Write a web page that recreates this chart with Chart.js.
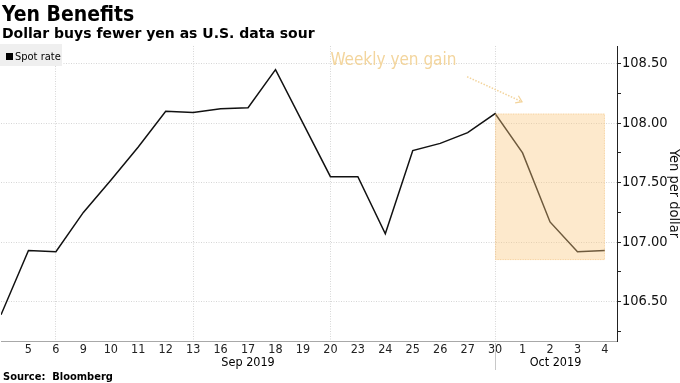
<!DOCTYPE html>
<html><head><meta charset="utf-8">
<script src="https://cdn.jsdelivr.net/npm/chart.js@4.4.1/dist/chart.umd.min.js"></script>
<style>html,body{margin:0;padding:0;background:#fff;overflow:hidden}#wrap{width:680px;height:383px;position:relative}</style>
</head><body><div id="wrap"><canvas id="c" width="680" height="383"></canvas></div>
<script>
// ---- data ----
const dayLabels = ['4','5','6','9','10','11','12','13','16','17','18','19','20','23','24','25','26','27','30','1','2','3','4'];
const spotRate = [106.39,106.93,106.92,107.25,107.52,107.80,108.10,108.09,108.12,108.13,108.45,108.00,107.55,107.55,107.07,107.77,107.83,107.92,108.08,107.75,107.17,106.92,106.93];
const seriesName = 'Spot rate';
const weekGridIdx = [2, 7, 12, 18];
const monthLabels = ['Sep 2019', 'Oct 2019'];
const monthCenters = [9, 20.2];
const monthBreakIdx = 18;
const gainBox = [18, 22, 108.08, 106.85];        // x from, x to, y top, y bottom (data units)
const gainArrow = [16.98, 108.39, 18.98, 108.18]; // x1, y1, x2, y2 (data units)
const gainLabel = 'Weekly yen gain';
const gainLabelAt = [12, 108.485];
const titleText = 'Yen Benefits';
const subtitleText = 'Dollar buys fewer yen as U.S. data sour';
const sourceText = 'Source:  Bloomberg';
const yAxisTitle = 'Yen per dollar';

const COND = '"DejaVu Sans Condensed", "DejaVu Sans", sans-serif';
const ORANGE_TXT = '#f3d59d';

const deco = {
  id: 'deco',
  afterDatasetsDraw(chart) {
    const ctx = chart.ctx, xs = chart.scales.x, ys = chart.scales.y;
    // shaded box
    const x1 = xs.getPixelForValue(gainBox[0]), x2 = xs.getPixelForValue(gainBox[1]);
    const y1 = ys.getPixelForValue(gainBox[2]), y2 = ys.getPixelForValue(gainBox[3]);
    ctx.save();
    ctx.fillStyle = 'rgba(249,200,128,0.40)';
    ctx.fillRect(x1, y1, x2 - x1, y2 - y1);
    ctx.strokeStyle = 'rgba(240,190,120,0.55)';
    ctx.setLineDash([1, 1.5]);
    ctx.lineWidth = 1;
    ctx.strokeRect(x1 + 0.5, y1 + 0.5, x2 - x1 - 1, y2 - y1 - 1);
    // arrow
    const ax1 = xs.getPixelForValue(gainArrow[0]), ay1 = ys.getPixelForValue(gainArrow[1]);
    const ax2 = xs.getPixelForValue(gainArrow[2]), ay2 = ys.getPixelForValue(gainArrow[3]);
    ctx.strokeStyle = '#f3d49c';
    ctx.lineWidth = 1.5;
    ctx.setLineDash([1.5, 1.5]);
    ctx.beginPath(); ctx.moveTo(ax1, ay1); ctx.lineTo(ax2, ay2); ctx.stroke();
    const ang = Math.atan2(ay2 - ay1, ax2 - ax1);
    ctx.setLineDash([]);
    ctx.lineWidth = 1.2;
    ctx.beginPath();
    ctx.moveTo(ax2 - 7 * Math.cos(ang - 0.6), ay2 - 7 * Math.sin(ang - 0.6));
    ctx.lineTo(ax2, ay2);
    ctx.lineTo(ax2 - 7 * Math.cos(ang + 0.6), ay2 - 7 * Math.sin(ang + 0.6));
    ctx.stroke();
    // label
    ctx.fillStyle = ORANGE_TXT;
    ctx.font = '17px ' + COND;
    ctx.textBaseline = 'alphabetic';
    ctx.textAlign = 'left';
    ctx.fillText(gainLabel, xs.getPixelForValue(gainLabelAt[0]), ys.getPixelForValue(gainLabelAt[1]));
    ctx.restore();
  },
  afterDraw(chart) {
    const ctx = chart.ctx, xs = chart.scales.x, ca = chart.chartArea;
    ctx.save();
    ctx.fillStyle = '#000';
    ctx.textAlign = 'left';
    ctx.textBaseline = 'alphabetic';
    ctx.font = 'bold 21px ' + COND;
    ctx.fillText(titleText, 2, 21);
    ctx.font = 'bold 14px "DejaVu Sans", sans-serif';
    ctx.fillText(subtitleText, 2, 37.5);
    ctx.font = 'bold 11px ' + COND;
    ctx.fillText(sourceText, 3, 380);
    // legend
    ctx.fillStyle = '#efefef';
    ctx.fillRect(0, 44, 62, 22);
    ctx.fillStyle = '#000';
    ctx.fillRect(6, 53, 7, 7);
    ctx.font = '11px ' + COND;
    ctx.textBaseline = 'middle';
    ctx.fillText(seriesName, 15, 57);
    // month labels
    ctx.font = '12.5px ' + COND;
    ctx.textAlign = 'center';
    monthLabels.forEach((m, i) => ctx.fillText(m, xs.getPixelForValue(monthCenters[i]), 363));
    // month separator
    const sx = Math.round(xs.getPixelForValue(monthBreakIdx)) + 0.5;
    ctx.strokeStyle = '#c8c8c8';
    ctx.lineWidth = 1;
    ctx.beginPath(); ctx.moveTo(sx, ca.bottom + 2); ctx.lineTo(sx, 370); ctx.stroke();
    ctx.restore();
  }
};

new Chart(document.getElementById('c'), {
  type: 'line',
  data: {
    datasets: [{
      label: seriesName,
      data: spotRate.map((v, i) => ({x: i, y: v})),
      borderColor: '#111',
      borderWidth: 1.5,
      pointRadius: 0,
      tension: 0,
      fill: false
    }]
  },
  options: {
    responsive: false,
    animation: false,
    devicePixelRatio: 1,
    layout: {padding: {top: 46, left: 0, right: 0, bottom: 0}},
    plugins: {legend: {display: false}, tooltip: {enabled: false}, title: {display: false}},
    scales: {
      x: {
        type: 'linear',
        min: 0,
        max: 22.44,
        afterBuildTicks: s => { s.ticks = dayLabels.map((_, i) => ({value: i})); },
        afterFit: s => { s.height = 42; },
        ticks: {
          autoSkip: false, maxRotation: 0, padding: 1,
          color: '#222',
          font: {family: COND, size: 12.5},
          callback: v => (v === 0 ? '' : dayLabels[v])
        },
        grid: {
          drawTicks: false,
          color: c => (c.tick && weekGridIdx.includes(c.tick.value) ? '#d6d6d6' : 'rgba(0,0,0,0)'),
          lineWidth: 1
        },
        border: {display: true, color: '#a8a8a8', width: 1, dash: [1, 1.5]}
      },
      y: {
        type: 'linear',
        position: 'right',
        min: 106.17,
        max: 108.648,
        afterBuildTicks: s => {
          const t = [];
          for (let v = 106.25; v <= 108.5001; v += 0.25) t.push({value: Math.round(v * 100) / 100});
          s.ticks = t;
        },
        afterFit: s => { s.width = 63; },
        ticks: {
          padding: 1,
          color: '#111',
          font: {family: COND, size: 14.5},
          callback: v => (Math.abs(v * 2 - Math.round(v * 2)) < 1e-6 ? v.toFixed(2) : '')
        },
        grid: {
          drawTicks: true,
          tickLength: 4,
          tickColor: '#222',
          color: c => (c.tick && Math.abs(c.tick.value * 2 - Math.round(c.tick.value * 2)) < 1e-6 ? '#d6d6d6' : 'rgba(0,0,0,0)'),
          lineWidth: 1
        },
        border: {display: true, color: '#222', width: 1, dash: [1, 1.5]},
        title: {display: true, text: yAxisTitle, color: '#111', font: {family: COND, size: 14.5}, padding: {top: -2, bottom: 0}}
      }
    }
  },
  plugins: [deco]
});
</script>
</body></html>
